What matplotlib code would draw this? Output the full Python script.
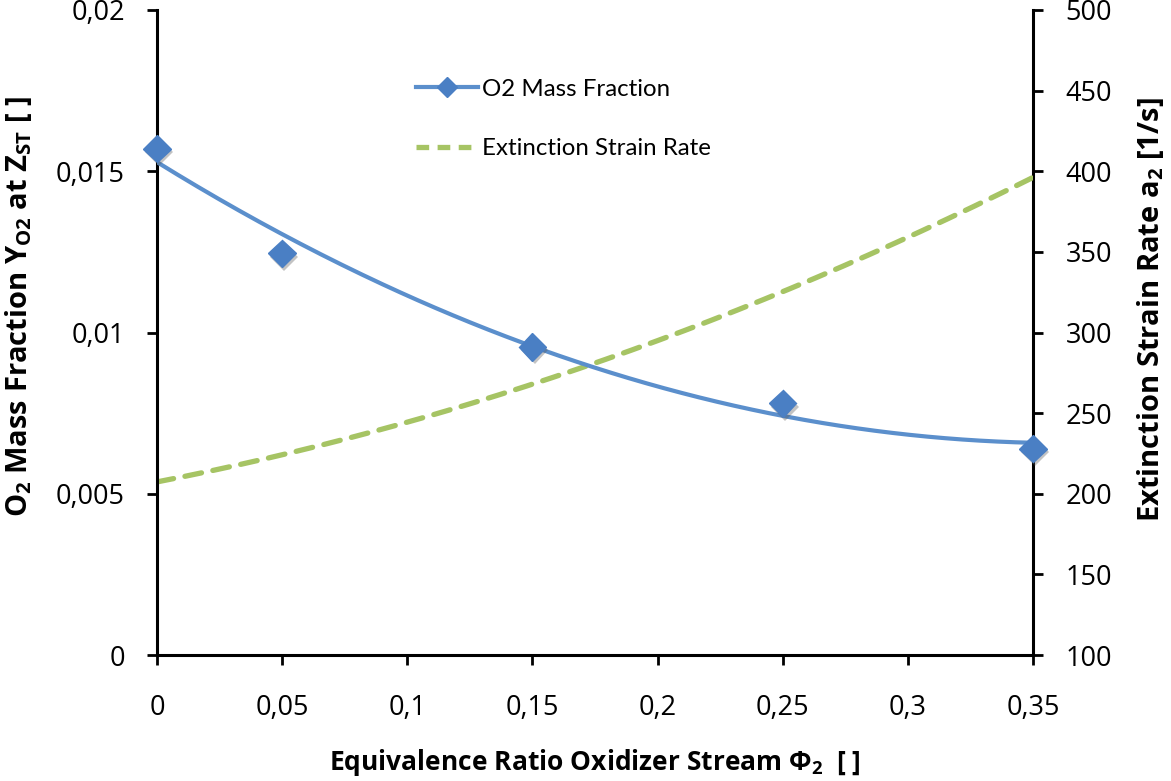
import numpy as np
import matplotlib
matplotlib.use("Agg")
import matplotlib.pyplot as plt
from matplotlib import patheffects as pe
from matplotlib.lines import Line2D
from matplotlib.ticker import FuncFormatter

# Oxidizer-stream equivalence ratio and the O2 mass fraction at Z_ST
phi2 = [0.0, 0.05, 0.15, 0.25, 0.35]
y_o2 = [0.0157, 0.01245, 0.00955, 0.0078, 0.0064]

# Extinction strain rate a2 [1/s] at the same equivalence ratios
a2 = [207, 225, 267, 326, 396]

x_ticks = [0, 0.05, 0.1, 0.15, 0.2, 0.25, 0.3, 0.35]
left_ticks = [0, 0.005, 0.01, 0.015, 0.02]
right_ticks = [100, 150, 200, 250, 300, 350, 400, 450, 500]

plt.rcParams["mathtext.default"] = "regular"

BLUE_LINE = "#5b8fcc"
BLUE_MARK = "#4a7fc4"
GREEN = "#a6c464"
LABEL_FONT = ["Liberation Sans Narrow", "Open Sans", "DejaVu Sans"]
TICK_FONT = ["Open Sans", "DejaVu Sans"]
LEGEND_FONT = ["Lato", "DejaVu Sans"]

fig = plt.figure(figsize=(11.71, 7.81), dpi=100)
ax = fig.add_axes([157 / 1171, 126 / 781, (1033 - 157) / 1171, (655 - 10) / 781])
ax2 = ax.twinx()


def comma(v, _pos):
    s = f"{v:.3f}".rstrip("0").rstrip(".")
    return s.replace(".", ",")


# quadratic trendlines through the data
xs = np.linspace(phi2[0], phi2[-1], 300)
c_o2 = np.polyfit(phi2, y_o2, 2)
c_a2 = np.polyfit(phi2, a2, 2)

ax.plot(xs, np.polyval(c_o2, xs), color=BLUE_LINE, lw=3.0, solid_capstyle="butt", zorder=3)
ax.plot(phi2, y_o2, ls="none", marker="D", ms=14, color=BLUE_MARK, mec=BLUE_MARK,
        zorder=4, clip_on=False,
        path_effects=[pe.SimplePatchShadow(offset=(1.5, -2.5), alpha=0.35, shadow_rgbFace="#555555"),
                      pe.Normal()])
ax2.plot(xs, np.polyval(c_a2, xs), color=GREEN, lw=3.8, dashes=(3.2, 2.2),
         dash_capstyle="round", zorder=3)

ax.set_xlim(0, 0.35)
ax.set_ylim(0, 0.02)
ax2.set_ylim(100, 500)
ax.set_xticks(x_ticks)
ax.set_yticks(left_ticks)
ax2.set_yticks(right_ticks)
ax.xaxis.set_major_formatter(FuncFormatter(comma))
ax.yaxis.set_major_formatter(FuncFormatter(comma))

for a in (ax, ax2):
    a.spines["top"].set_visible(False)
    for s in a.spines.values():
        s.set_linewidth(2.2)
    a.tick_params(direction="out", length=7, width=2.0, pad=16, labelsize=19.5)
    for lab in a.get_xticklabels() + a.get_yticklabels():
        lab.set_fontfamily(TICK_FONT)
ax.tick_params(axis="x", pad=21)
ax2.tick_params(axis="y", pad=16.5)
ax2.spines["left"].set_visible(False)
ax2.spines["bottom"].set_visible(False)
ax.spines["right"].set_visible(False)
ax.set_zorder(ax2.get_zorder() + 1)
ax.patch.set_visible(False)

ax.set_xlabel("Equivalence Ratio Oxidizer Stream $\u03a6_2$  [ ]", fontsize=19,
              fontweight="bold", family=LABEL_FONT, va="center")
ax.set_ylabel("O$_2$ Mass Fraction Y$_{O2}$ at Z$_{ST}$ [ ]", fontsize=21,
              fontweight="bold", family=LABEL_FONT, va="center")
ax2.set_ylabel("Extinction Strain Rate a$_2$ [1/s]", fontsize=21,
               fontweight="bold", family=LABEL_FONT, va="center")
ax.xaxis.set_label_coords(0.5, (655 - 763) / 645)
ax.yaxis.set_label_coords((19 - 157) / 876, (655 - 307) / 645)
ax2.yaxis.set_label_coords((1151 - 157) / 876, (655 - 310) / 645)

# legend
h1 = Line2D([], [], color=BLUE_LINE, lw=3.0, marker="D", ms=10, mfc=BLUE_MARK, mec=BLUE_MARK)
h2 = Line2D([], [], color=GREEN, lw=3.8, dashes=(2.4, 1.6))
leg = ax.legend([h1, h2], ["O2 Mass Fraction", "Extinction Strain Rate"],
                loc="upper left", bbox_to_anchor=((394 - 157) / 876, (655 - 57) / 645),
                frameon=False, handlelength=2.6, handletextpad=0.15, labelspacing=1.6,
                prop={"family": LEGEND_FONT, "size": 17.3})

fig.savefig("out.png", dpi=100)
